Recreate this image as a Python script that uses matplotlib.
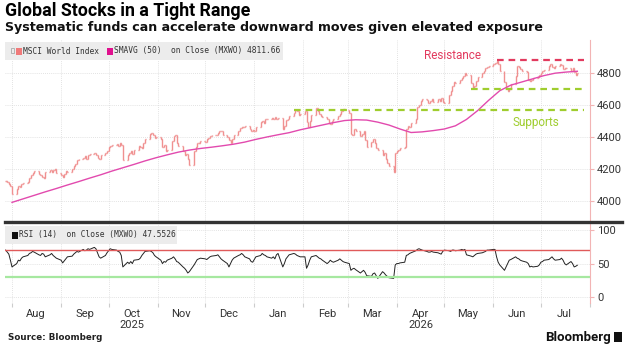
import matplotlib
matplotlib.use("Agg")
import matplotlib.pyplot as plt
import matplotlib.dates as mdates
from matplotlib.patches import Rectangle
from matplotlib.lines import Line2D
import pandas as pd
import numpy as np

plt.rcParams["font.family"] = ["Roboto", "DejaVu Sans"]

# * Dados (MSCI World, pregões diários)
dias = pd.bdate_range("2025-07-28", "2026-07-24")

fechamento = [
    4125, 4118, 4105, 4090, 4040,
    4075, 4090, 4085, 4105, 4110,
    4120, 4145, 4160, 4175, 4185,
    4170, 4160, 4150, 4140, 4180,
    4190, 4178, 4190, 4200, 4175,
    4160, 4150, 4165, 4185, 4180,
    4200, 4215, 4230, 4255, 4260,
    4270, 4280, 4265, 4290, 4295,
    4300, 4285, 4270, 4260, 4285,
    4300, 4315, 4335, 4345, 4350,
    4355, 4345, 4360, 4350, 4255,
    4290, 4300, 4315, 4295, 4320,
    4345, 4340, 4330, 4365, 4390,
    4420, 4425, 4410, 4395, 4400,
    4385, 4340, 4350, 4310, 4320,
    4375, 4405, 4410, 4360, 4345,
    4310, 4285, 4295, 4260, 4225,
    4310, 4335, 4360, 4365, 4375,
    4370, 4385, 4395, 4405, 4410,
    4415, 4425, 4440, 4435, 4410,
    4400, 4380, 4360, 4390, 4410,
    4440, 4455, 4465, 4460, 4468,
    4450, 4440, 4445, 4435, 4460,
    4495, 4500, 4490, 4510, 4515,
    4520, 4510, 4525, 4515, 4520,
    4450, 4470, 4505, 4515, 4530,
    4550, 4570, 4560, 4540, 4545,
    4560, 4495, 4465, 4500, 4540,
    4580, 4560, 4545, 4530, 4525,
    4510, 4485, 4480, 4500, 4515,
    4530, 4545, 4560, 4575, 4570,
    4550, 4420, 4410, 4450, 4440,
    4405, 4420, 4435, 4380, 4340,
    4370, 4390, 4360, 4330, 4320,
    4290, 4300, 4265, 4240, 4215,
    4180, 4300, 4315, 4320, 4330,
    4335, 4450, 4470, 4465, 4490,
    4510, 4590, 4600, 4625, 4640,
    4630, 4615, 4625, 4640, 4620,
    4635, 4625, 4645, 4620, 4610,
    4665, 4690, 4720, 4745, 4740,
    4755, 4770, 4785, 4800, 4790,
    4740, 4710, 4720, 4750, 4775,
    4800, 4815, 4830, 4840, 4845,
    4860, 4865, 4875, 4860, 4815,
    4745, 4710, 4690, 4700, 4735,
    4780, 4845, 4840, 4825, 4815,
    4810, 4755, 4750, 4760, 4770,
    4775, 4790, 4800, 4815, 4820,
    4845, 4855, 4840, 4830, 4845,
    4860, 4850, 4825, 4830, 4835,
    4815, 4830, 4810, 4790, 4800,
]

# media movel de 50 dias (valor de cada sexta-feira)
sma_datas = dias[4::5]
sma50 = [
    3990, 4012, 4034, 4056, 4077, 4099, 4120, 4142, 4163, 4186,
    4207, 4228, 4250, 4270, 4288, 4305, 4318, 4328, 4336, 4345,
    4355, 4368, 4385, 4400, 4414, 4427, 4445, 4460, 4475, 4490,
    4503, 4508, 4506, 4493, 4475, 4450, 4428, 4432, 4440, 4450,
    4470, 4510, 4565, 4630, 4690, 4725, 4745, 4765, 4785, 4800,
    4807, 4812,
]

rsi14 = [
    70, 67, 64, 55, 45,
    50, 55, 54, 58, 60,
    62, 65, 66, 68, 67,
    63, 62, 65, 64, 60,
    63, 65, 62, 60, 58,
    55, 51, 54, 57, 60,
    61, 64, 66, 68, 67,
    71, 69, 70, 72, 71,
    74, 72, 66, 60, 58,
    62, 66, 69, 72, 71,
    70, 68, 67, 62, 45,
    52, 50, 53, 50, 55,
    56, 58, 62, 65, 68,
    69, 68, 66, 62, 60,
    55, 50, 53, 52, 55,
    58, 60, 57, 53, 52,
    45, 43, 40, 36, 38,
    48, 52, 56, 57, 58,
    57, 56, 58, 60, 61,
    62, 63, 60, 57, 55,
    50, 45, 50, 55, 58,
    62, 63, 65, 63, 60,
    57, 53, 52, 56, 60,
    62, 65, 63, 62, 60,
    58, 60, 57, 63, 65,
    45, 50, 57, 60, 63,
    65, 64, 62, 61, 60,
    60, 43, 48, 55, 60,
    62, 60, 58, 57, 55,
    50, 52, 55, 53, 52,
    55, 57, 55, 53, 52,
    50, 40, 42, 43, 41,
    36, 38, 40, 37, 32,
    31, 35, 36, 32, 28,
    38, 36, 33, 31, 29,
    28, 48, 50, 50, 51,
    52, 62, 63, 65, 66,
    69, 71, 72, 71, 70,
    68, 67, 67, 68, 67,
    66, 65, 64, 68, 70,
    69, 68, 70, 70, 69,
    70, 71, 70, 71, 63,
    61, 60, 62, 64, 65,
    66, 67, 68, 70, 70,
    71, 71, 60, 52, 48,
    40, 45, 50, 55, 56,
    60, 58, 57, 55, 54,
    52, 50, 45, 46, 45,
    46, 48, 52, 53, 55,
    56, 58, 60, 57, 55,
    56, 58, 55, 50, 48,
    53, 50, 45, 46, 47.55,
]

resistencia = 4880
resistencia_inicio = "2026-06-03"
suportes = [4700, 4570]
suportes_inicio = ["2026-05-18", "2026-01-26"]
niveis_fim = "2026-07-28"

meses = ["Aug", "Sep", "Oct\n2025", "Nov", "Dec", "Jan", "Feb", "Mar",
         "Apr\n2026", "May", "Jun", "Jul"]

# * Cores
cor_barra = "#f09090"
cor_sma = "#e24aae"
cor_res = "#e23a5e"
cor_sup = "#9fcd2e"
cor_eixo = "#f2b4b4"
cor_grade = "#d9d9d9"
fonte_leg = "DejaVu Sans Mono"

W, H = 630, 348
fig = plt.figure(figsize=(W / 100, H / 100), dpi=100)


def caixa(x0, y0, x1, y1):
    # converte pixels (origem no topo) para coordenadas da figura
    return [x0 / W, 1 - y1 / H, (x1 - x0) / W, (y1 - y0) / H]


ax = fig.add_axes(caixa(5, 40, 590, 222))
ax_rsi = fig.add_axes(caixa(5, 224, 590, 303), sharex=ax)

x = mdates.date2num(dias)
fech = np.array(fechamento, dtype=float)
abertura = np.r_[fech[0], fech[:-1]]

# * Barras OHLC
ax.vlines(x, np.minimum(abertura, fech), np.maximum(abertura, fech),
          color=cor_barra, lw=1.0)
ax.hlines(abertura, x - 0.6, x, color=cor_barra, lw=1.0)
ax.hlines(fech, x, x + 0.6, color=cor_barra, lw=1.0)

ax.plot(sma_datas, sma50, color=cor_sma, lw=1.0)

# niveis de resistencia e suporte
ax.hlines(resistencia, mdates.datestr2num(resistencia_inicio), mdates.datestr2num(niveis_fim),
          color=cor_res, lw=1.6, linestyles=(0, (3, 2.2)))
for nivel, ini in zip(suportes, suportes_inicio):
    ax.hlines(nivel, mdates.datestr2num(ini), mdates.datestr2num(niveis_fim),
              color=cor_sup, lw=1.6, linestyles=(0, (3, 2.2)))

ax.text(mdates.datestr2num("2026-05-06"), 4910, "Resistance", color=cor_res,
        fontsize=8.5, ha="center", va="center")
ax.text(mdates.datestr2num("2026-06-28"), 4488, "Supports", color=cor_sup,
        fontsize=8.5, ha="center", va="center")

# * RSI
ax_rsi.plot(dias, rsi14, color="#222222", lw=0.7)
ax_rsi.axhline(70, color="#e05a5a", lw=1.0)
ax_rsi.axhline(30, color="#a6e8a0", lw=1.6)

# * Eixos
for a in (ax, ax_rsi):
    for lado in ("top", "left", "bottom"):
        a.spines[lado].set_visible(False)
    a.spines["right"].set_color(cor_eixo)
    a.yaxis.tick_right()
    a.tick_params(axis="y", colors=cor_eixo, labelcolor="#333333", labelsize=8,
                  length=3, width=0.8, pad=2)
    a.grid(True, which="major", color=cor_grade, lw=0.6, ls=(0, (1, 1.5)))
    a.set_axisbelow(True)

ax.set_yticks([4000, 4200, 4400, 4600, 4800])
ax_rsi.set_yticks([0, 50, 100])

ax_rsi.xaxis.set_major_locator(mdates.MonthLocator())
ax_rsi.xaxis.set_major_formatter(plt.NullFormatter())
meio_mes = pd.date_range("2025-08-01", periods=12, freq="MS") + pd.Timedelta(days=15)
ax_rsi.set_xticks(mdates.date2num(meio_mes), minor=True)
ax_rsi.set_xticklabels(meses, minor=True)
ax_rsi.tick_params(axis="x", which="major", length=3, color="#cccccc")
ax_rsi.tick_params(axis="x", which="minor", length=0, labelsize=8,
                   labelcolor="#333333", pad=4)
ax.tick_params(axis="x", which="both", length=0, labelbottom=False)

ax.set_xlim(mdates.datestr2num("2025-07-27 14:00"), mdates.datestr2num("2026-08-01"))
ax.set_ylim(3867, 5008)
ax_rsi.set_ylim(-8.5, 108.7)

# separador entre os paineis
fig.add_artist(Line2D([5 / W, 622 / W], [1 - 222 / H] * 2, color="#333333", lw=2.4))

# * Legendas
fig.add_artist(Rectangle((5 / W, 1 - 60 / H), 278 / W, 18 / H, color="#ececec", lw=0, zorder=5))
fig.add_artist(Rectangle((11 / W, 1 - 53 / H), 3 / W, 5 / H, fill=False, ec="#aaaaaa", lw=0.6, zorder=6))
fig.add_artist(Rectangle((16 / W, 1 - 54.5 / H), 6 / W, 7 / H, color="#f07a7a", lw=0, zorder=6))
fig.text(23 / W, 1 - 51 / H, "MSCI World Index", fontsize=5.7, family=fonte_leg,
         color="#333333", va="center", zorder=7)
fig.add_artist(Rectangle((107 / W, 1 - 54.5 / H), 6 / W, 7 / H, color="#e0108e", lw=0, zorder=6))
fig.text(114 / W, 1 - 51 / H, "SMAVG (50)  on Close (MXWO) 4811.66", fontsize=5.7,
         family=fonte_leg, color="#333333", va="center", zorder=7)

fig.add_artist(Rectangle((5 / W, 1 - 244 / H), 172 / W, 18 / H, color="#ececec", lw=0, zorder=5))
fig.add_artist(Rectangle((12 / W, 1 - 238.5 / H), 6 / W, 7 / H, color="#111111", lw=0, zorder=6))
fig.text(19 / W, 1 - 235 / H, "RSI (14)  on Close (MXWO) 47.5526", fontsize=5.7,
         family=fonte_leg, color="#333333", va="center", zorder=7)

# * Titulos e rodape
fig.text(5 / W, 1 - 1.5 / H, "Global Stocks in a Tight Range", fontsize=12.8,
         weight="bold", va="top", color="#000000")
fig.text(5 / W, 1 - 21 / H,
         "Systematic funds can accelerate downward moves given elevated exposure",
         fontsize=9.05, weight="bold", va="top", color="#111111", family="DejaVu Sans")
fig.text(8 / W, 1 - 338 / H, "Source: Bloomberg", fontsize=6.3, weight="bold",
         va="center", color="#222222", family="DejaVu Sans")
fig.text(611 / W, 1 - 337 / H, "Bloomberg", fontsize=9.5, weight="bold",
         va="center", ha="right", color="#111111")
fig.add_artist(Rectangle((614 / W, 1 - 342 / H), 8 / W, 10 / H, color="#111111", lw=0))

fig.savefig("out.png", dpi=100)
